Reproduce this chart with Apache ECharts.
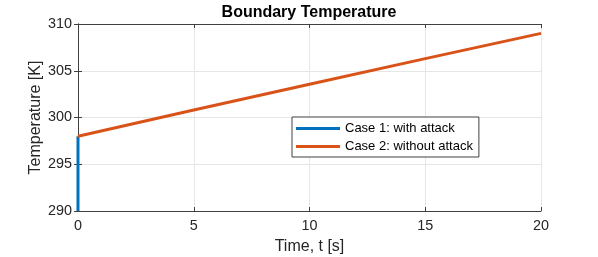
<!DOCTYPE html>
<html><head><meta charset="utf-8">
<script src="https://cdn.jsdelivr.net/npm/echarts@6/dist/echarts.min.js"></script>
<style>html,body{margin:0;padding:0;background:#fff}#c{width:598px;height:257px}</style>
</head><body><div id="c"></div>
<script>
const title = 'Boundary Temperature';
const xName = 'Time, t [s]';
const yName = 'Temperature [K]';
const case1T = [0, 0];
const case1V = [298, 290];
const case2T = [0, 5, 10, 15, 20];
const case2V = [298, 300.8, 303.55, 306.3, 309];
const names = ['Case 1: with attack', 'Case 2: without attack'];
const colors = ['#0072BD', '#D95319'];
const font = 'Liberation Sans, Arial, Helvetica, sans-serif';
const txt = '#262626';

const chart = echarts.init(document.getElementById('c'), null, {renderer: 'canvas'});
const axBase = {
  type: 'value',
  axisLine: {show: true, lineStyle: {color: '#404040', width: 1}},
  axisTick: {show: true, inside: true, length: 4, lineStyle: {color: '#404040'}},
  splitLine: {show: false},
  axisLabel: {color: txt, fontFamily: font, fontSize: 14.4},
  nameTextStyle: {color: txt, fontFamily: font, fontSize: 16},
  nameMoveOverlap: false
};
chart.setOption({
  animation: false,
  title: {text: title, left: 309, top: 5, padding: 0, textAlign: 'center',
    textStyle: {fontFamily: font, fontSize: 16, fontWeight: 'bold', color: '#000'}},
  grid: {left: 78, right: 57, top: 24, bottom: 46, containLabel: false, outerBoundsMode: 'none'},
  legend: {
    orient: 'vertical', left: 292, top: 117,
    data: names, icon: 'rect', itemWidth: 44, itemHeight: 3, itemGap: 5,
    padding: [5, 6, 4, 4],
    borderColor: '#404040', borderWidth: 1, backgroundColor: '#fff',
    textStyle: {color: '#000', fontFamily: font, fontSize: 13}
  },
  xAxis: [
    Object.assign({}, axBase, {min: 0, max: 20, interval: 5, name: xName, nameLocation: 'middle', nameGap: 28,
      splitLine: {show: true, lineStyle: {color: '#e6e6e6'}},
      axisLabel: Object.assign({}, axBase.axisLabel, {margin: 8})}),
    Object.assign({}, axBase, {min: 0, max: 20, interval: 5, position: 'top', axisLabel: {show: false}})
  ],
  yAxis: [
    Object.assign({}, axBase, {min: 290, max: 310, interval: 5, name: yName, nameLocation: 'middle', nameGap: 34,
      splitLine: {show: true, lineStyle: {color: '#e6e6e6'}},
      axisLabel: Object.assign({}, axBase.axisLabel, {margin: 6})}),
    Object.assign({}, axBase, {min: 290, max: 310, interval: 5, position: 'right', axisLabel: {show: false}})
  ],
  series: [
    {name: names[0], type: 'line', data: case1T.map((t, i) => [t, case1V[i]]), showSymbol: false,
      lineStyle: {color: colors[0], width: 3}, itemStyle: {color: colors[0]}, clip: true},
    {name: names[1], type: 'line', data: case2T.map((t, i) => [t, case2V[i]]), showSymbol: false,
      lineStyle: {color: colors[1], width: 3}, itemStyle: {color: colors[1]}, clip: true}
  ]
});
</script></body></html>
